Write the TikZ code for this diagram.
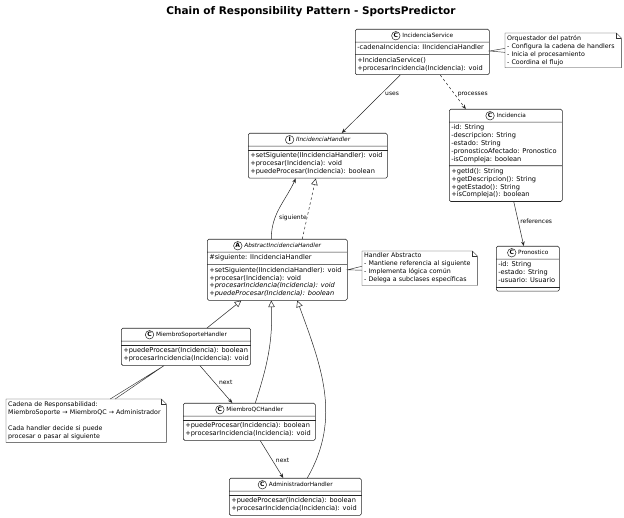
\documentclass[tikz,border=0pt]{standalone}
\usepackage{fontspec}
\setmainfont{DejaVu Sans}
\usetikzlibrary{shapes.multipart, arrows.meta, calc}

\newcommand{\hdr}[1]{{\fontsize{5.8}{7}\selectfont\rule[-2.6pt]{0pt}{8.4pt}\hspace*{11pt}#1}}
\newcommand{\rows}[1]{\begin{tabular}{@{}l@{}}#1\end{tabular}}
\newcommand{\gaprows}[1]{\begin{tabular}{@{}l@{}}\rule{0pt}{9.5pt}#1\end{tabular}}
\newcommand{\notepaper}[1]{%
  \draw[black!80] (#1.north west) -- ([xshift=-5pt]#1.north east) -- ([yshift=-5pt]#1.north east) |- (#1.south west) -- cycle;
  \draw[black!80] ([xshift=-5pt]#1.north east) |- ([yshift=-5pt]#1.north east);}

\tikzset{
  umlclass/.style={rectangle split, rectangle split parts=3, draw=black!85, fill=white, rounded corners=1.5pt,
    anchor=north west, rectangle split part align={center,left,left},
    inner xsep=2pt, inner ysep=2pt, font=\fontsize{6.6}{7.8}\selectfont, line width=0.55pt},
  umlclasstwo/.style={umlclass, rectangle split parts=2},
  splitline/.style={draw=black!85, line width=0.55pt},
  umlicon/.style={circle, draw=black!85, fill=white, inner sep=0pt, minimum size=8.5pt, line width=0.5pt,
    font=\bfseries\fontsize{6}{6}\selectfont},
  umlnote/.style={anchor=north west, align=left, inner xsep=2pt, inner ysep=2pt, font=\fontsize{6.3}{8}\selectfont},
  lbl/.style={font=\fontsize{6}{7}\selectfont, inner sep=1pt},
  assoc/.style={draw=black!85, line width=0.5pt, -{Stealth[length=4.5pt,width=3.6pt]}},
  dep/.style={assoc, dash pattern=on 2.5pt off 2.5pt},
  inherit/.style={draw=black!85, line width=0.5pt, -{Triangle[open,length=6.5pt,width=6.5pt]}},
  realize/.style={inherit, dash pattern=on 2.5pt off 2.5pt},
  notelink/.style={draw=black!80, line width=0.45pt},
}

\begin{document}
\begin{tikzpicture}[x=1pt, y=1pt]
\useasboundingbox (0,0) rectangle (624,518);
\node[font=\bfseries\fontsize{10.5}{12}\selectfont] (title) at (311,506) {Chain of Responsibility Pattern - SportsPredictor};

% classes
\node[umlclass, minimum width=134pt] (svc) at (355,489) {\hdr{IncidenciaService}
  \nodepart{two} \rows{-cadenaIncidencia: IIncidenciaHandler}
  \nodepart{three} \rows{+IncidenciaService()\\+procesarIncidencia(Incidencia): void}};
\node[umlclasstwo, minimum width=139pt] (hnd) at (248,385) {\hdr{\textit{IIncidenciaHandler}}
  \nodepart{two} \gaprows{+setSiguiente(IIncidenciaHandler): void\\+procesar(Incidencia): void\\+puedeProcesar(Incidencia): boolean}};
\node[umlclass, minimum width=113pt] (inc) at (449,409) {\hdr{Incidencia}
  \nodepart{two} \rows{-id: String\\-descripcion: String\\-estado: String\\-pronosticoAfectado: Pronostico\\-isCompleja: boolean}
  \nodepart{three} \rows{+getId(): String\\+getDescripcion(): String\\+getEstado(): String\\+isCompleja(): boolean}};
\node[umlclasstwo, minimum width=63pt] (pro) at (496,272) {\hdr{Pronostico}
  \nodepart{two} \rows{-id: String\\-estado: String\\-usuario: Usuario\rule[-6.3pt]{0pt}{0pt}}};
\node[umlclass, minimum width=140pt] (abs) at (207,279) {\hdr{\textit{AbstractIncidenciaHandler}}
  \nodepart{two} \rows{\#siguiente: IIncidenciaHandler}
  \nodepart{three} \rows{+setSiguiente(IIncidenciaHandler): void\\+procesar(Incidencia): void\\\textit{+procesarIncidencia(Incidencia): void}\\\textit{+puedeProcesar(Incidencia): boolean}}};
\node[umlclasstwo, minimum width=129pt] (sop) at (121,190) {\hdr{MiembroSoporteHandler}
  \nodepart{two} \gaprows{+puedeProcesar(Incidencia): boolean\\+procesarIncidencia(Incidencia): void}};
\node[umlclasstwo, minimum width=132pt] (qc) at (183,115) {\hdr{MiembroQCHandler}
  \nodepart{two} \gaprows{+puedeProcesar(Incidencia): boolean\\+procesarIncidencia(Incidencia): void}};
\node[umlclasstwo, minimum width=132pt] (adm) at (229,40) {\hdr{AdministradorHandler}
  \nodepart{two} \gaprows{+puedeProcesar(Incidencia): boolean\\+procesarIncidencia(Incidencia): void}};

% empty compartments
\draw[splitline] ([yshift=-4pt]hnd.text split west) -- ([yshift=-4pt]hnd.text split east);
\draw[splitline] ([yshift=-4pt]sop.text split west) -- ([yshift=-4pt]sop.text split east);
\draw[splitline] ([yshift=-4pt]qc.text split west) -- ([yshift=-4pt]qc.text split east);
\draw[splitline] ([yshift=-4pt]adm.text split west) -- ([yshift=-4pt]adm.text split east);
\draw[splitline] ([yshift=4pt]pro.south west) -- ([yshift=4pt]pro.south east);

% header icons
\node[umlicon] (svcicon) at ([shift={(4.5pt,1.6pt)}]svc.text) {C};
\node[umlicon] (hndicon) at ([shift={(4.5pt,1.6pt)}]hnd.text) {I};
\node[umlicon] (incicon) at ([shift={(4.5pt,1.6pt)}]inc.text) {C};
\node[umlicon] (proicon) at ([shift={(4.5pt,1.6pt)}]pro.text) {C};
\node[umlicon] (absicon) at ([shift={(4.5pt,1.6pt)}]abs.text) {A};
\node[umlicon] (sopicon) at ([shift={(4.5pt,1.6pt)}]sop.text) {C};
\node[umlicon] (qcicon) at ([shift={(4.5pt,1.6pt)}]qc.text) {C};
\node[umlicon] (admicon) at ([shift={(4.5pt,1.6pt)}]adm.text) {C};

% notes
\node[umlnote, text width=112pt, minimum height=34pt] (nsvc) at (505,485) {Orquestador del patrón\\- Configura la cadena de handlers\\- Inicia el procesamiento\\- Coordina el flujo};
\notepaper{nsvc}
\node[umlnote, text width=111pt, minimum height=32pt] (nabs) at (362,267) {Handler Abstracto\\- Mantiene referencia al siguiente\\- Implementa lógica común\\- Delega a subclases específicas};
\notepaper{nabs}
\node[umlnote, text width=156pt, minimum height=43pt] (nchain) at (6,119) {Cadena de Responsabilidad:\\MiembroSoporte → MiembroQC → Administrador\\\mbox{}\\Cada handler decide si puede\\procesar o pasar al siguiente};
\notepaper{nchain}

% note links
\draw[notelink] ([yshift=2pt]nsvc.west) -- ([yshift=1pt]svc.east) -- ([yshift=-2pt]nsvc.west);
\draw[notelink] ([yshift=2pt]nabs.west) -- (abs.east) -- ([yshift=-2pt]nabs.west);
\draw[notelink] ([xshift=24pt]nchain.north) -- ([xshift=-22pt]sop.south) -- ([xshift=29pt]nchain.north);

% relations
\draw[assoc] ([xshift=-22pt]svc.south) -- node[lbl, pos=0.33, right=3pt] {uses} ([xshift=24pt]hnd.north);
\draw[dep] ([xshift=18pt]svc.south) -- node[lbl, pos=0.56, right=2pt] {processes} ([xshift=-40pt]inc.north);
\draw[assoc] ([xshift=8pt]inc.south) -- node[lbl, pos=0.43, right=1pt] {references} ([xshift=-4pt]pro.north);
\draw[assoc] ([xshift=-6pt]abs.north) to[out=90, in=245] node[lbl, pos=0.32, right=3pt] {siguiente} ([xshift=-22pt]hnd.south);
\draw[realize] ([xshift=25pt]abs.north) -- ([xshift=-2pt]hnd.south);
\draw[inherit] ([xshift=21pt]sop.north) -- ([xshift=-36pt]abs.south);
\draw[inherit] ([xshift=6pt]qc.north) to[out=72, in=272] ([xshift=-6pt]abs.south);
\draw[inherit] ([xshift=12pt]adm.north) to[out=60, in=290] ([xshift=20pt]abs.south);
\draw[assoc] ([xshift=14pt]sop.south) -- node[lbl, pos=0.46, right=3pt] {next} ([xshift=-17pt]qc.north);
\draw[assoc] ([xshift=11pt]qc.south) -- node[lbl, pos=0.54, right=2pt] {next} ([xshift=-12pt]adm.north);
\end{tikzpicture}
\end{document}
